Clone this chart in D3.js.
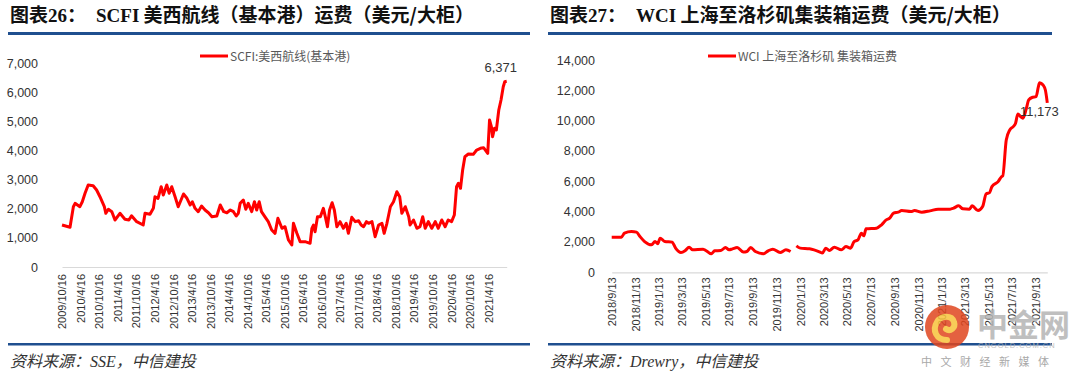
<!DOCTYPE html>
<html>
<head>
<meta charset="utf-8">
<script src="https://cdn.jsdelivr.net/npm/d3@7"></script>
<style>
  body { margin: 0; background: #fff; }
  svg { display: block; }
</style>
</head>
<body>
<svg id="chart" width="1080" height="375"></svg>
<script>
// SCFI US West coast (weekly, sampled) - USD/FEU
var scfiDates = ["2009/10/16","2010/1/3","2010/2/5","2010/2/22","2010/4/10","2010/5/4","2010/5/31","2010/7/1","2010/8/19","2010/9/22",
  "2010/10/25","2010/12/7","2010/12/22","2011/1/16","2011/2/19","2011/3/22","2011/5/10","2011/6/28","2011/8/6","2011/9/1",
  "2011/10/22","2011/12/25","2012/1/12","2012/3/1","2012/4/3","2012/4/19","2012/5/19","2012/6/19","2012/7/10","2012/8/13",
  "2012/9/6","2012/10/1","2012/11/3","2012/12/4","2013/1/25","2013/2/28","2013/4/1","2013/4/22","2013/5/19","2013/6/19",
  "2013/7/22","2013/8/25","2013/9/28","2013/11/1","2013/12/19","2014/1/22","2014/2/25","2014/3/28","2014/5/1","2014/6/1",
  "2014/6/28","2014/7/19","2014/8/6","2014/9/6","2014/10/1","2014/10/25","2014/11/28","2014/12/25","2015/1/16","2015/2/10",
  "2015/3/4","2015/4/6","2015/5/10","2015/6/13","2015/7/16","2015/8/13","2015/9/22","2015/10/22","2015/11/25","2015/12/28",
  "2016/1/13","2016/2/16","2016/3/19","2016/5/7","2016/6/25","2016/7/13","2016/7/28","2016/8/13","2016/9/6","2016/10/4",
  "2016/11/3","2016/11/22","2016/12/13","2017/1/3","2017/1/28","2017/2/19","2017/3/16","2017/4/16","2017/5/19","2017/6/16",
  "2017/7/7","2017/8/10","2017/9/13","2017/10/16","2017/11/10","2017/12/4","2018/1/1","2018/1/22","2018/2/25","2018/3/28",
  "2018/5/1","2018/6/3","2018/6/25","2018/7/22","2018/8/25","2018/9/25","2018/10/28","2018/11/25","2018/12/16","2019/1/19",
  "2019/2/22","2019/3/7","2019/4/10","2019/5/13","2019/6/13","2019/7/10","2019/8/3","2019/9/3","2019/10/7","2019/11/10",
  "2019/12/10","2020/1/13","2020/2/16","2020/3/16","2020/4/19","2020/5/16","2020/6/7","2020/6/25","2020/7/16","2020/8/6",
  "2020/8/28","2020/10/1","2020/11/19","2020/12/22","2021/1/28","2021/2/28","2021/4/10","2021/4/28","2021/5/16","2021/5/28",
  "2021/6/16","2021/7/4","2021/7/28","2021/8/19","2021/9/10","2021/9/25","2021/10/14"];
var scfiValues = [1441,1362,2069,2185,2070,2240,2528,2813,2790,2642,
  2412,2069,1842,1980,1898,1613,1842,1636,1613,1760,
  1555,1441,1842,1808,2014,2412,2357,2755,2470,2813,
  2528,2755,2412,2069,2505,2357,2127,2240,2014,1898,
  2093,1956,1863,1726,1750,2127,1898,1863,1956,1898,
  1750,1842,2185,2299,1980,2185,1898,2240,1956,2240,
  1898,1726,1555,1270,1156,1671,1328,1383,926,755,
  1499,1156,869,869,813,1328,1441,1211,1726,1726,
  2014,1726,1383,1956,2206,1956,1383,1555,1328,1499,
  1156,1705,1555,1589,1441,1383,1555,1499,1555,1040,
  1441,1499,1156,1499,2069,2240,2583,2412,1842,2069,
  1726,1441,1613,1328,1383,1726,1328,1555,1328,1555,
  1328,1613,1383,1613,1555,1784,2755,2872,2700,3328,
  3784,3877,3867,4014,4073,4093,3901,5044,4814,4471,
  4759,4700,5386,5730,6186,6358,6371];

// WCI Shanghai - Los Angeles (USD/FEU); null = gap in the series
var wciDates = ["2018/9/13","2018/10/8","2018/10/16","2018/11/3","2018/11/16","2018/11/25","2018/12/7","2018/12/25","2019/1/3","2019/1/10",
  "2019/1/16","2019/1/28","2019/2/16","2019/2/25","2019/3/11","2019/3/22","2019/4/1","2019/4/10","2019/5/7","2019/5/28",
  "2019/6/6","2019/6/22","2019/7/4","2019/7/13","2019/7/22","2019/8/3","2019/8/19","2019/8/28","2019/9/7","2019/9/19",
  "2019/10/10","2019/10/22","2019/11/3","2019/11/22","2019/12/7","2019/12/19","2019/12/26","2020/1/3","2020/1/13","2020/2/6",
  "2020/3/4","2020/3/10","2020/3/19","2020/3/28","2020/4/10","2020/4/28","2020/5/10","2020/5/22","2020/5/31","2020/6/10",
  "2020/6/19","2020/6/25","2020/7/1","2020/7/28","2020/8/10","2020/8/22","2020/8/31","2020/9/10","2020/9/22","2020/10/1",
  "2020/10/25","2020/11/3","2020/11/22","2020/12/13","2021/1/3","2021/2/3","2021/2/12","2021/2/25","2021/3/8","2021/3/25",
  "2021/4/1","2021/4/16","2021/4/28","2021/5/7","2021/5/16","2021/5/22","2021/6/7","2021/6/16","2021/6/19","2021/6/28",
  "2021/7/7","2021/7/16","2021/7/22","2021/7/28","2021/8/4","2021/8/10","2021/8/19","2021/8/25","2021/9/4","2021/9/13",
  "2021/9/19","2021/9/22","2021/10/1","2021/10/7","2021/10/12"];
var wciValues = [2319,2319,2582,2688,2648,2358,2029,1812,2029,1878,
  2253,2029,1990,1594,1304,1436,1660,1482,1528,1219,
  1416,1436,1634,1482,1548,1634,1331,1370,1634,1370,
  1219,1416,1528,1304,1482,1370,null,1746,1594,1548,
  1331,1265,1594,1436,1660,1482,1700,1594,2029,2141,
  2582,2405,2866,2912,3129,3459,3571,3900,3966,4071,
  4005,4071,3966,4052,4163,4163,4229,4381,4183,4163,
  4381,4071,4335,5171,5257,5652,5982,6311,6357,8729,
  9388,9605,9829,10442,10264,10158,10817,11364,11542,11582,
  12241,12504,12352,12023,11173];

var scfiTicks = ["2009/10/16","2010/4/16","2010/10/16","2011/4/16","2011/10/16","2012/4/16","2012/10/16","2013/4/16",
  "2013/10/16","2014/4/16","2014/10/16","2015/4/16","2015/10/16","2016/4/16","2016/10/16","2017/4/16","2017/10/16",
  "2018/4/16","2018/10/16","2019/4/16","2019/10/16","2020/4/16","2020/10/16","2021/4/16"];
var wciTicks = ["2018/9/13","2018/11/13","2019/1/13","2019/3/13","2019/5/13","2019/7/13","2019/9/13","2019/11/13",
  "2020/1/13","2020/3/13","2020/5/13","2020/7/13","2020/9/13","2020/11/13","2021/1/13","2021/3/13","2021/5/13",
  "2021/7/13","2021/9/13"];
var scfiYTicks = [0,1000,2000,3000,4000,5000,6000,7000];
var wciYTicks = [0,2000,4000,6000,8000,10000,12000,14000];

var parseDate = d3.timeParse("%Y/%m/%d");
var fmtDate = d3.timeFormat("%Y/%-m/%-d");
var fmtNum = d3.format(",");
var CJK = "'Noto Sans CJK SC', sans-serif";
var SERIF = "'Liberation Serif', 'DejaVu Serif', serif";
var SANS = "'Liberation Sans', Arial, sans-serif";

var svg = d3.select("#chart");
svg.append("rect").attr("width", 1080).attr("height", 375).attr("fill", "#fff");

function drawPanel(p) {
  var g = svg.append("g");

  // title + blue rules
  var t = g.append("text").attr("x", p.left + 2).attr("y", 22)
    .attr("font-size", 19).attr("font-weight", "bold").attr("fill", "#111");
  t.append("tspan").attr("font-family", CJK).text("图表");
  t.append("tspan").attr("font-family", SERIF).text(p.num);
  t.append("tspan").attr("font-family", CJK).text("：");
  var t2 = g.append("text").attr("x", p.left + 88).attr("y", 22)
    .attr("font-size", 19).attr("font-weight", "bold").attr("fill", "#111");
  t2.append("tspan").attr("font-family", SERIF).text(p.titleEn);
  t2.append("tspan").attr("font-family", CJK).text(" " + p.titleCn);

  g.append("rect").attr("x", p.left).attr("y", 32).attr("width", p.ruleW).attr("height", 3).attr("fill", "#1f4f8f");
  g.append("rect").attr("x", p.left).attr("y", 343).attr("width", p.ruleW).attr("height", 2.5).attr("fill", "#1f4f8f");

  // source note
  var s = g.append("text").attr("x", p.left + 2).attr("y", 367)
    .attr("font-size", 16).attr("font-style", "italic").attr("fill", "#333");
  s.append("tspan").attr("font-family", CJK).text("资料来源：");
  s.append("tspan").attr("font-family", SERIF).text(p.source);
  s.append("tspan").attr("font-family", CJK).text("，中信建投");

  // scales
  var data = p.dates.map(function(d, i) { return { date: parseDate(d), v: p.values[i] }; });
  var x = d3.scaleTime()
    .domain([data[0].date, data[data.length - 1].date])
    .range([p.x0, p.x1]);
  var y = d3.scaleLinear()
    .domain([0, p.yTicks[p.yTicks.length - 1]])
    .range([p.y0, p.yTop]);

  // y axis (labels only)
  var ya = g.append("g")
    .attr("transform", "translate(" + (p.yLabelX + 4) + ",0)")
    .call(d3.axisLeft(y).tickValues(p.yTicks).tickFormat(fmtNum).tickSize(0).tickPadding(4));
  ya.select(".domain").remove();
  ya.selectAll("text").attr("font-family", SANS).attr("font-size", 12.5).attr("fill", "#333");

  // x axis
  var xa = g.append("g")
    .attr("transform", "translate(0," + p.y0 + ")")
    .call(d3.axisBottom(x).tickValues(p.ticks.map(parseDate)).tickFormat(fmtDate).tickSize(0).tickSizeOuter(0));
  xa.select(".domain").attr("stroke", "#d9d9d9").attr("stroke-width", 1.2);
  xa.selectAll("text")
    .attr("font-family", SANS).attr("font-size", 11).attr("fill", "#333")
    .attr("transform", "rotate(-90)")
    .attr("text-anchor", "end")
    .attr("x", -p.labelPad).attr("y", 0).attr("dy", "0.35em");

  // series line
  var line = d3.line()
    .defined(function(d) { return d.v != null; })
    .x(function(d) { return x(d.date); })
    .y(function(d) { return y(d.v); })
    .curve(p.curve);
  g.append("path").datum(data)
    .attr("fill", "none").attr("stroke", "#ff0000")
    .attr("stroke-width", p.lineW).attr("stroke-linejoin", "round")
    .attr("d", line);

  // last value label
  var last = data[data.length - 1];
  g.append("text")
    .attr("x", x(last.date) + p.lastDx).attr("y", y(last.v) + p.lastDy)
    .attr("text-anchor", "middle")
    .attr("font-family", SANS).attr("font-size", 13).attr("fill", "#333")
    .text(fmtNum(last.v));

  // legend
  g.append("line")
    .attr("x1", p.legX).attr("x2", p.legX + 28).attr("y1", 56).attr("y2", 56)
    .attr("stroke", "#ff0000").attr("stroke-width", 3);
  g.append("text").attr("x", p.legX + 30).attr("y", 60.5)
    .attr("font-family", CJK).attr("font-size", 12).attr("fill", "#595959")
    .text(p.legend);
}

drawPanel({
  left: 8, ruleW: 522, num: "26", titleEn: "SCFI", titleCn: "美西航线（基本港）运费（美元/大柜）",
  source: "SSE", dates: scfiDates, values: scfiValues, ticks: scfiTicks, yTicks: scfiYTicks,
  x0: 62, x1: 506.7, y0: 267, yTop: 63, yLabelX: 38, labelPad: 7,
  curve: d3.curveLinear, lineW: 3, lastDx: -6, lastDy: -9,
  legX: 200, legend: "SCFI:美西航线(基本港)"
});

drawPanel({
  left: 548, ruleW: 504, num: "27", titleEn: "WCI", titleCn: "上海至洛杉矶集装箱运费（美元/大柜）",
  source: "Drewry", dates: wciDates, values: wciValues, ticks: wciTicks, yTicks: wciYTicks,
  x0: 611.7, x1: 1047.3, y0: 272.3, yTop: 60, yLabelX: 595, labelPad: 5,
  curve: d3.curveMonotoneX, lineW: 3, lastDx: -8, lastDy: 13,
  legX: 708, legend: "WCI 上海至洛杉矶 集装箱运费"
});

// watermark (cngold logo)
var wm = svg.append("g").attr("opacity", 0.85);
wm.append("circle").attr("cx", 947).attr("cy", 327).attr("r", 22).attr("fill", "#e0461f");
wm.append("path")
  .attr("d", "M947,340 C936,340 932,330 937,322 C941,315 952,315 954,322 C956,328 950,332 946,329")
  .attr("fill", "none").attr("stroke", "#f7c33b").attr("stroke-width", 6).attr("stroke-linecap", "round");
wm.append("text").attr("x", 977).attr("y", 336)
  .attr("font-family", CJK).attr("font-weight", "bold").attr("font-size", 31).attr("fill", "#b5b5b5")
  .text("中金网");
wm.append("text").attr("x", 978).attr("y", 348)
  .attr("font-family", SANS).attr("font-size", 7.5).attr("letter-spacing", 1).attr("fill", "#b5b5b5")
  .text("CNGOLD.COM.CN");
wm.append("text").attr("x", 921).attr("y", 366)
  .attr("font-family", CJK).attr("font-size", 11).attr("letter-spacing", 8.5).attr("fill", "#9a9a9a")
  .text("中文财经新媒体");
</script>
</body>
</html>
